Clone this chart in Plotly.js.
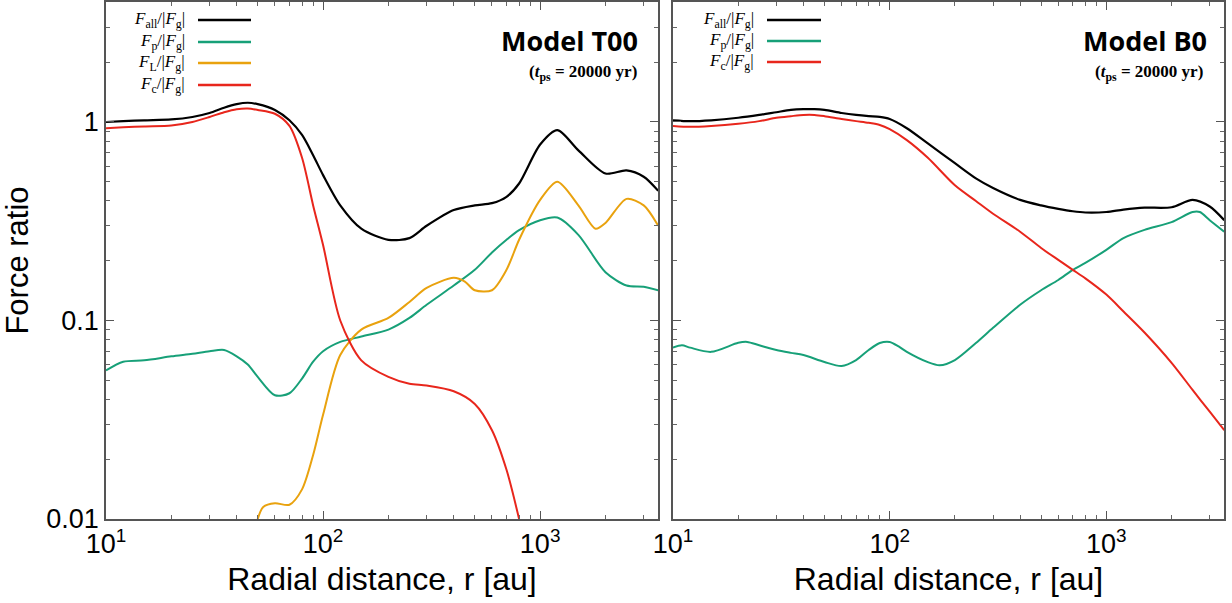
<!DOCTYPE html>
<html>
<head>
<meta charset="utf-8">
<script src="https://cdn.plot.ly/plotly-3.0.1.min.js"></script>
<style>html,body{margin:0;padding:0;background:#fff;}#chart{width:1232px;height:603px;}</style>
</head>
<body>
<div id="chart"></div>
<script>
// ---------- Data: Model T00 ----------
const t00_r_all = [10,12,15,20,25,30,35,40,45,50,60,70,80,90,100,120,150,200,250,300,400,500,600,700,800,1000,1200,1500,2000,2500,3000,3500];
const t00_all   = [1.0,1.01,1.02,1.03,1.06,1.11,1.18,1.23,1.25,1.23,1.15,1.02,0.86,0.68,0.54,0.38,0.29,0.255,0.26,0.30,0.36,0.38,0.39,0.42,0.49,0.77,0.91,0.72,0.55,0.57,0.53,0.45];
const t00_p     = [0.056,0.062,0.063,0.066,0.068,0.070,0.071,0.066,0.060,0.052,0.042,0.043,0.051,0.062,0.070,0.078,0.083,0.090,0.103,0.12,0.15,0.18,0.22,0.255,0.285,0.32,0.33,0.27,0.175,0.15,0.148,0.142];
const t00_r_L   = [50,53,60,70,80,90,100,120,150,200,250,300,400,450,500,600,700,800,1000,1200,1500,1800,2000,2500,3000,3500];
const t00_L     = [0.0100,0.0115,0.0120,0.0118,0.0141,0.021,0.0335,0.067,0.090,0.103,0.124,0.146,0.164,0.157,0.142,0.142,0.18,0.255,0.405,0.50,0.38,0.29,0.31,0.41,0.38,0.30];
const t00_r_c   = [10,12,15,20,25,30,35,40,45,50,60,70,80,90,100,120,150,200,250,300,400,500,600,700,800];
const t00_c     = [0.93,0.94,0.95,0.96,1.0,1.06,1.12,1.16,1.17,1.15,1.10,0.955,0.66,0.38,0.24,0.10,0.063,0.052,0.048,0.047,0.044,0.038,0.028,0.0177,0.0100];

// ---------- Data: Model B0 ----------
const b0_r      = [10,12,15,20,25,30,35,40,45,50,60,70,80,90,100,120,150,200,250,300,400,500,600,700,800,1000,1200,1500,2000,2500,3000,3500];
const b0_all    = [1.02,1.01,1.02,1.05,1.085,1.12,1.15,1.16,1.16,1.15,1.11,1.085,1.07,1.06,1.035,0.93,0.78,0.62,0.52,0.465,0.405,0.38,0.365,0.355,0.35,0.352,0.362,0.37,0.372,0.405,0.375,0.32];
const b0_c      = [0.955,0.945,0.955,0.98,1.01,1.05,1.07,1.085,1.085,1.07,1.035,1.01,0.99,0.966,0.92,0.81,0.66,0.48,0.40,0.345,0.28,0.232,0.202,0.18,0.163,0.135,0.111,0.087,0.0612,0.0447,0.0347,0.028];
const b0_r_p    = [10,11,12,15,20,22,25,30,35,40,50,60,70,80,90,100,110,120,150,170,200,250,300,400,500,600,700,800,1000,1200,1500,2000,2500,2700,3000,3500];
const b0_p      = [0.073,0.075,0.073,0.0695,0.0772,0.078,0.075,0.071,0.0687,0.067,0.0618,0.059,0.0632,0.071,0.077,0.078,0.074,0.0695,0.0617,0.0595,0.0632,0.077,0.0918,0.12,0.142,0.160,0.180,0.195,0.227,0.26,0.286,0.313,0.352,0.352,0.32,0.28];

// ---------- Labels / ticks ----------
const legT00 = ['<i>F</i><sub>all</sub>/|<i>F</i><sub>g</sub>|','<i>F</i><sub>p</sub>/|<i>F</i><sub>g</sub>|','<i>F</i><sub>L</sub>/|<i>F</i><sub>g</sub>|','<i>F</i><sub>c</sub>/|<i>F</i><sub>g</sub>|'];
const legB0  = ['<i>F</i><sub>all</sub>/|<i>F</i><sub>g</sub>|','<i>F</i><sub>p</sub>/|<i>F</i><sub>g</sub>|','<i>F</i><sub>c</sub>/|<i>F</i><sub>g</sub>|'];
const xTickVals = [10,100,1000];
const xTickText = ['10<sup>1</sup>','10<sup>2</sup>','10<sup>3</sup>'];
const xMinorVals = [20,30,40,50,60,70,80,90,200,300,400,500,600,700,800,900,2000,3000];
const yTickVals = [0.01,0.1,1];
const yTickText = ['0.01','0.1','1'];
const yMinorVals = [0.02,0.03,0.04,0.05,0.06,0.07,0.08,0.09,0.2,0.3,0.4,0.5,0.6,0.7,0.8,0.9,2,3,4];

const C_BLACK='#000000', C_GREEN='#17a078', C_ORANGE='#e9a20e', C_RED='#e8261c';
const W=1232,H=603;
const px=x=>x/W, py=y=>(H-y)/H;

function tr(x,y,color,xa,ya,w){
  return {x:x,y:y,type:'scatter',mode:'lines',line:{color:color,width:w||2,shape:'spline',smoothing:0.8},
          xaxis:xa,yaxis:ya,hoverinfo:'skip',showlegend:false};
}
const data=[
  tr(t00_r_all,t00_p,C_GREEN,'x','y'),
  tr(t00_r_L,t00_L,C_ORANGE,'x','y'),
  tr(t00_r_c,t00_c,C_RED,'x','y'),
  tr(t00_r_all,t00_all,C_BLACK,'x','y',2.2),
  tr(b0_r_p,b0_p,C_GREEN,'x2','y2'),
  tr(b0_r,b0_c,C_RED,'x2','y2'),
  tr(b0_r,b0_all,C_BLACK,'x2','y2',2.2)
];

const axFont={family:'Liberation Sans, Arial, sans-serif',size:27,color:'#000'};
function xax(dom,anchor){
  return {type:'log',domain:dom,range:[1,3.543],anchor:anchor,tickmode:'array',tickvals:xTickVals,ticktext:xTickText,
    ticks:'inside',ticklen:8,tickwidth:1,tickcolor:'#555',
    minor:{tickmode:'array',tickvals:xMinorVals,ticks:'inside',ticklen:4,tickwidth:1,tickcolor:'#666',showgrid:false},
    showline:true,linecolor:'#555',linewidth:1.8,mirror:'ticks',showgrid:false,zeroline:false,
    tickfont:axFont,automargin:false,
    title:{text:'Radial distance, r [au]',font:{family:'Liberation Sans, Arial, sans-serif',size:32,color:'#000'},standoff:9}};
}
function yax(anchor,labels){
  return {type:'log',domain:[0.1393,0.9967],range:[-2,0.6045],anchor:anchor,tickmode:'array',
    tickvals:yTickVals,ticktext:yTickText,showticklabels:labels,
    ticks:'inside',ticklen:8,tickwidth:1,tickcolor:'#555',
    minor:{tickmode:'array',tickvals:yMinorVals,ticks:'inside',ticklen:4,tickwidth:1,tickcolor:'#666',showgrid:false},
    showline:true,linecolor:'#555',linewidth:1.8,mirror:'ticks',showgrid:false,zeroline:false,
    tickfont:axFont,automargin:false,
    title:labels?{text:'Force ratio',font:{family:'Liberation Sans, Arial, sans-serif',size:31,color:'#000'},standoff:14}:{text:''}};
}

const serif='Liberation Serif, DejaVu Serif, serif';
const annotations=[];
const shapes=[];
const legY1=[20,42,63,85], legC1=[C_BLACK,C_GREEN,C_ORANGE,C_RED];
legT00.forEach((t,i)=>{
  annotations.push({xref:'paper',yref:'paper',x:px(187),y:py(legY1[i]),xanchor:'right',yanchor:'middle',text:t,showarrow:false,font:{family:serif,size:17,color:'#000'}});
  shapes.push({type:'line',xref:'paper',yref:'paper',x0:px(198),x1:px(251),y0:py(legY1[i]),y1:py(legY1[i]),line:{color:legC1[i],width:2.5}});
});
const legY2=[20,41,62], legC2=[C_BLACK,C_GREEN,C_RED];
legB0.forEach((t,i)=>{
  annotations.push({xref:'paper',yref:'paper',x:px(756),y:py(legY2[i]),xanchor:'right',yanchor:'middle',text:t,showarrow:false,font:{family:serif,size:17,color:'#000'}});
  shapes.push({type:'line',xref:'paper',yref:'paper',x0:px(767),x1:px(821),y0:py(legY2[i]),y1:py(legY2[i]),line:{color:legC2[i],width:2.5}});
});
const titleFont={family:'Open Sans, Noto Sans, sans-serif',size:27,color:'#000'};
const subFont={family:serif,size:17,color:'#000'};
annotations.push({xref:'paper',yref:'paper',x:px(640),y:py(40),xanchor:'right',yanchor:'middle',text:'<b>Model T00</b>',showarrow:false,font:titleFont});
annotations.push({xref:'paper',yref:'paper',x:px(639),y:py(73),xanchor:'right',yanchor:'middle',text:'<b>(<i>t</i><sub>ps</sub> = 20000 yr)</b>',showarrow:false,font:subFont});
annotations.push({xref:'paper',yref:'paper',x:px(1209),y:py(40),xanchor:'right',yanchor:'middle',text:'<b>Model B0</b>',showarrow:false,font:titleFont});
annotations.push({xref:'paper',yref:'paper',x:px(1205),y:py(73),xanchor:'right',yanchor:'middle',text:'<b>(<i>t</i><sub>ps</sub> = 20000 yr)</b>',showarrow:false,font:subFont});

const layout={
  width:W,height:H,margin:{l:0,r:0,t:0,b:0},paper_bgcolor:'#fff',plot_bgcolor:'#fff',showlegend:false,
  xaxis:xax([106/W,658/W],'y'),
  yaxis:yax('x',true),
  xaxis2:xax([673/W,1224/W],'y2'),
  yaxis2:yax('x2',false),
  annotations:annotations,shapes:shapes
};
Plotly.newPlot('chart',data,layout,{staticPlot:true,displayModeBar:false});
</script>
</body>
</html>
